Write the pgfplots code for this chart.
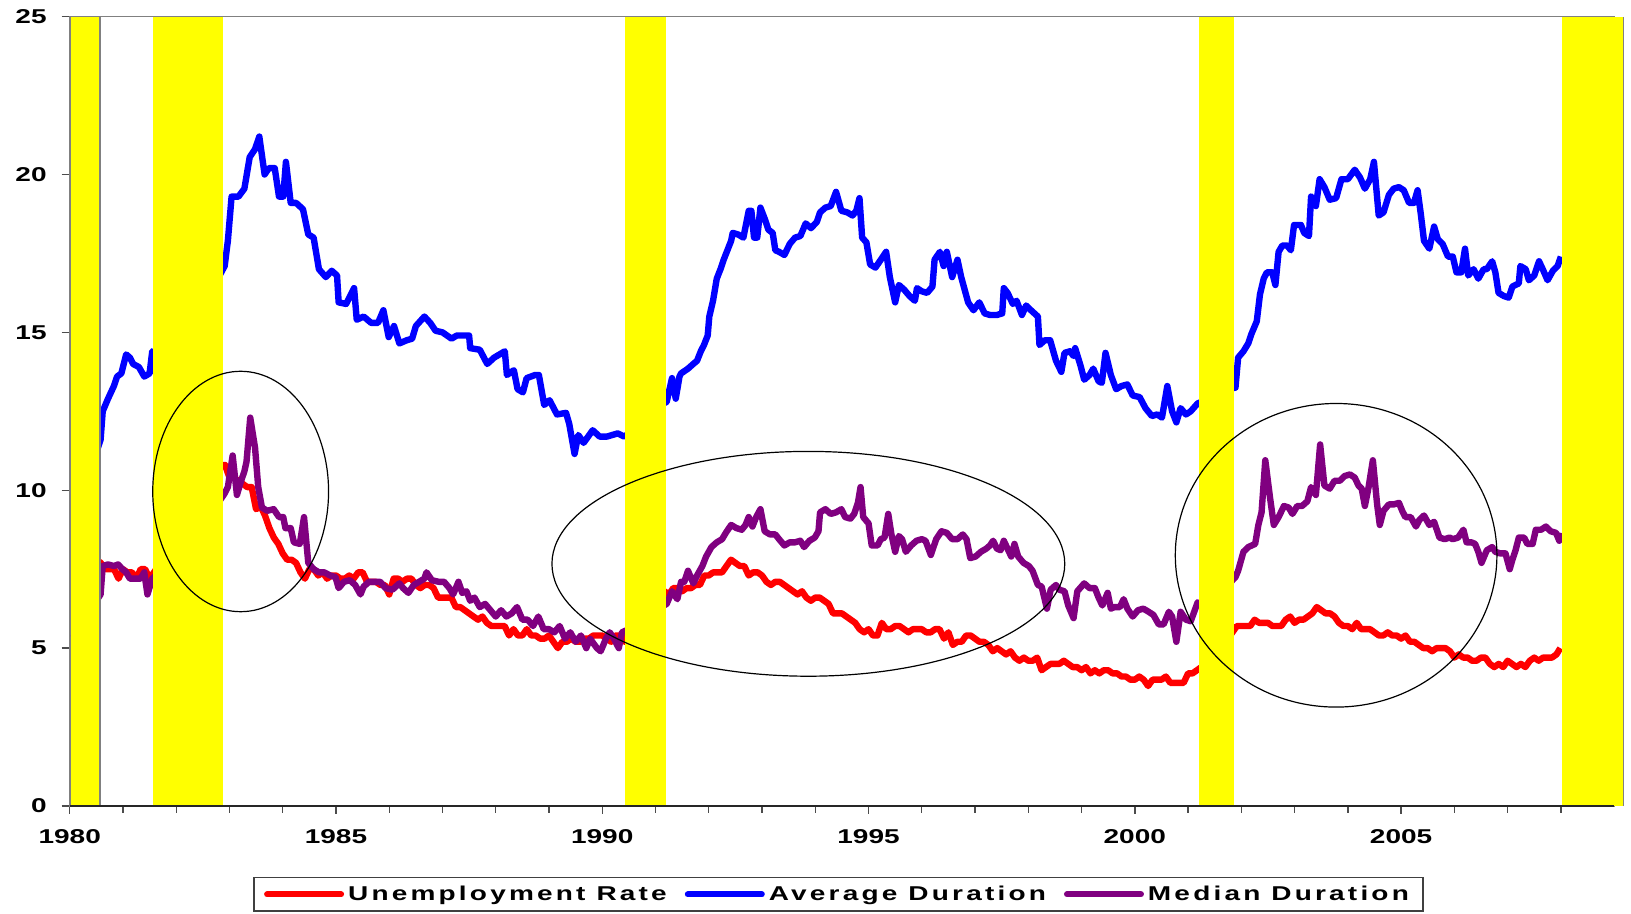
\documentclass[border=0pt]{standalone}
\usepackage{fontspec}
\setmainfont{Liberation Sans}[FakeStretch=1.4]
\usepackage{pgfplots}
\pgfplotsset{compat=1.18}
\definecolor{recyellow}{RGB}{255,255,0}
\definecolor{ured}{RGB}{255,0,0}
\definecolor{ablue}{RGB}{0,0,255}
\definecolor{mpurple}{RGB}{128,0,128}
\begin{document}
\begin{tikzpicture}
\useasboundingbox (0,0) rectangle (815.5pt,457pt);
\begin{axis}[
  at={(34.85pt,54pt)}, anchor=south west,
  scale only axis, width=772.2pt, height=394.7pt,
  xmin=1980, xmax=2009, ymin=0, ymax=25,
  clip=false,
  xtick={1980,1985,...,2005},
  minor xtick={1981,1982,1983,1984,1986,1987,1988,1989,1991,1992,1993,1994,1996,1997,1998,1999,2001,2002,2003,2004,2006,2007,2008},
  ytick={0,5,...,25},
  /pgf/number format/.cd, 1000 sep={}, assume math mode=true, /pgfplots/.cd,
  tick align=outside, xtick pos=left, ytick pos=left,
  major tick length=4pt, minor tick length=3.5pt,
  every tick/.style={black!70, line width=0.7pt},
  axis line style={gray, line width=0.8pt},
  tick label style={font=\bfseries\fontsize{10}{12}\selectfont},
  xticklabel style={yshift=-4pt},
  yticklabel style={xshift=-4pt},
  legend columns=3,
  legend style={at={(0.4978,-0.0899)}, anchor=north, draw=black!75, line width=0.7pt,
    font=\bfseries\fontsize{10}{12}\selectfont\addfontfeature{LetterSpace=16},
    inner xsep=5pt, inner ysep=2pt,
    /tikz/every even column/.append style={column sep=7pt}},
  legend cell align=left,
  legend image code/.code={\draw[#1, line width=3pt, line cap=round] (0pt,0pt) -- (37pt,0pt);},
]
% Unemployment rate
\addplot[ured, line width=3.2pt, line join=round] coordinates {
(1980.030,6.3)(1980.083,6.3)(1980.167,6.3)(1980.250,6.9)(1980.333,7.5)(1980.417,7.6)(1980.500,7.8)(1980.583,7.7)(1980.667,7.5)(1980.750,7.5)(1980.833,7.5)(1980.917,7.2)
(1981.000,7.5)(1981.083,7.4)(1981.167,7.4)(1981.250,7.2)(1981.333,7.5)(1981.417,7.5)(1981.500,7.2)(1981.583,7.4)(1981.667,7.6)(1981.750,7.9)(1981.833,8.3)(1981.917,8.5)
(1982.000,8.6)(1982.083,8.9)(1982.167,9.0)(1982.250,9.3)(1982.333,9.4)(1982.417,9.6)(1982.500,9.8)(1982.583,9.8)(1982.667,10.1)(1982.750,10.4)(1982.833,10.8)(1982.917,10.8)
(1983.000,10.4)(1983.083,10.4)(1983.167,10.3)(1983.250,10.2)(1983.333,10.1)(1983.417,10.1)(1983.500,9.4)(1983.583,9.5)(1983.667,9.2)(1983.750,8.8)(1983.833,8.5)(1983.917,8.3)
(1984.000,8.0)(1984.083,7.8)(1984.167,7.8)(1984.250,7.7)(1984.333,7.4)(1984.417,7.2)(1984.500,7.5)(1984.583,7.5)(1984.667,7.3)(1984.750,7.4)(1984.833,7.2)(1984.917,7.3)
(1985.000,7.3)(1985.083,7.2)(1985.167,7.2)(1985.250,7.3)(1985.333,7.2)(1985.417,7.4)(1985.500,7.4)(1985.583,7.1)(1985.667,7.1)(1985.750,7.1)(1985.833,7.0)(1985.917,7.0)
(1986.000,6.7)(1986.083,7.2)(1986.167,7.2)(1986.250,7.1)(1986.333,7.2)(1986.417,7.2)(1986.500,7.0)(1986.583,6.9)(1986.667,7.0)(1986.750,7.0)(1986.833,6.9)(1986.917,6.6)
(1987.000,6.6)(1987.083,6.6)(1987.167,6.6)(1987.250,6.3)(1987.333,6.3)(1987.417,6.2)(1987.500,6.1)(1987.583,6.0)(1987.667,5.9)(1987.750,6.0)(1987.833,5.8)(1987.917,5.7)
(1988.000,5.7)(1988.083,5.7)(1988.167,5.7)(1988.250,5.4)(1988.333,5.6)(1988.417,5.4)(1988.500,5.4)(1988.583,5.6)(1988.667,5.4)(1988.750,5.4)(1988.833,5.3)(1988.917,5.3)
(1989.000,5.4)(1989.083,5.2)(1989.167,5.0)(1989.250,5.2)(1989.333,5.2)(1989.417,5.3)(1989.500,5.2)(1989.583,5.2)(1989.667,5.3)(1989.750,5.3)(1989.833,5.4)(1989.917,5.4)
(1990.000,5.4)(1990.083,5.3)(1990.167,5.2)(1990.250,5.4)(1990.333,5.4)(1990.417,5.2)(1990.500,5.5)(1990.583,5.7)(1990.667,5.9)(1990.750,5.9)(1990.833,6.2)(1990.917,6.3)
(1991.000,6.4)(1991.083,6.6)(1991.167,6.8)(1991.250,6.7)(1991.333,6.9)(1991.417,6.9)(1991.500,6.8)(1991.583,6.9)(1991.667,6.9)(1991.750,7.0)(1991.833,7.0)(1991.917,7.3)
(1992.000,7.3)(1992.083,7.4)(1992.167,7.4)(1992.250,7.4)(1992.333,7.6)(1992.417,7.8)(1992.500,7.7)(1992.583,7.6)(1992.667,7.6)(1992.750,7.3)(1992.833,7.4)(1992.917,7.4)
(1993.000,7.3)(1993.083,7.1)(1993.167,7.0)(1993.250,7.1)(1993.333,7.1)(1993.417,7.0)(1993.500,6.9)(1993.583,6.8)(1993.667,6.7)(1993.750,6.8)(1993.833,6.6)(1993.917,6.5)
(1994.000,6.6)(1994.083,6.6)(1994.167,6.5)(1994.250,6.4)(1994.333,6.1)(1994.417,6.1)(1994.500,6.1)(1994.583,6.0)(1994.667,5.9)(1994.750,5.8)(1994.833,5.6)(1994.917,5.5)
(1995.000,5.6)(1995.083,5.4)(1995.167,5.4)(1995.250,5.8)(1995.333,5.6)(1995.417,5.6)(1995.500,5.7)(1995.583,5.7)(1995.667,5.6)(1995.750,5.5)(1995.833,5.6)(1995.917,5.6)
(1996.000,5.6)(1996.083,5.5)(1996.167,5.5)(1996.250,5.6)(1996.333,5.6)(1996.417,5.3)(1996.500,5.5)(1996.583,5.1)(1996.667,5.2)(1996.750,5.2)(1996.833,5.4)(1996.917,5.4)
(1997.000,5.3)(1997.083,5.2)(1997.167,5.2)(1997.250,5.1)(1997.333,4.9)(1997.417,5.0)(1997.500,4.9)(1997.583,4.8)(1997.667,4.9)(1997.750,4.7)(1997.833,4.6)(1997.917,4.7)
(1998.000,4.6)(1998.083,4.6)(1998.167,4.7)(1998.250,4.3)(1998.333,4.4)(1998.417,4.5)(1998.500,4.5)(1998.583,4.5)(1998.667,4.6)(1998.750,4.5)(1998.833,4.4)(1998.917,4.4)
(1999.000,4.3)(1999.083,4.4)(1999.167,4.2)(1999.250,4.3)(1999.333,4.2)(1999.417,4.3)(1999.500,4.3)(1999.583,4.2)(1999.667,4.2)(1999.750,4.1)(1999.833,4.1)(1999.917,4.0)
(2000.000,4.0)(2000.083,4.1)(2000.167,4.0)(2000.250,3.8)(2000.333,4.0)(2000.417,4.0)(2000.500,4.0)(2000.583,4.1)(2000.667,3.9)(2000.750,3.9)(2000.833,3.9)(2000.917,3.9)
(2001.000,4.2)(2001.083,4.2)(2001.167,4.3)(2001.250,4.4)(2001.333,4.3)(2001.417,4.5)(2001.500,4.6)(2001.583,4.9)(2001.667,5.0)(2001.750,5.3)(2001.833,5.5)(2001.917,5.7)
(2002.000,5.7)(2002.083,5.7)(2002.167,5.7)(2002.250,5.9)(2002.333,5.8)(2002.417,5.8)(2002.500,5.8)(2002.583,5.7)(2002.667,5.7)(2002.750,5.7)(2002.833,5.9)(2002.917,6.0)
(2003.000,5.8)(2003.083,5.9)(2003.167,5.9)(2003.250,6.0)(2003.333,6.1)(2003.417,6.3)(2003.500,6.2)(2003.583,6.1)(2003.667,6.1)(2003.750,6.0)(2003.833,5.8)(2003.917,5.7)
(2004.000,5.7)(2004.083,5.6)(2004.167,5.8)(2004.250,5.6)(2004.333,5.6)(2004.417,5.6)(2004.500,5.5)(2004.583,5.4)(2004.667,5.4)(2004.750,5.5)(2004.833,5.4)(2004.917,5.4)
(2005.000,5.3)(2005.083,5.4)(2005.167,5.2)(2005.250,5.2)(2005.333,5.1)(2005.417,5.0)(2005.500,5.0)(2005.583,4.9)(2005.667,5.0)(2005.750,5.0)(2005.833,5.0)(2005.917,4.9)
(2006.000,4.7)(2006.083,4.8)(2006.167,4.7)(2006.250,4.7)(2006.333,4.6)(2006.417,4.6)(2006.500,4.7)(2006.583,4.7)(2006.667,4.5)(2006.750,4.4)(2006.833,4.5)(2006.917,4.4)
(2007.000,4.6)(2007.083,4.5)(2007.167,4.4)(2007.250,4.5)(2007.333,4.4)(2007.417,4.6)(2007.500,4.7)(2007.583,4.6)(2007.667,4.7)(2007.750,4.7)(2007.833,4.7)(2007.917,4.8)(2007.990,5.0)
};
\addlegendentry{Unemployment Rate}
% Average duration
\addplot[ablue, line width=3.2pt, line join=round] coordinates {
(1980.05,10.7)(1980.25,10.6)(1980.50,11.2)(1980.58,11.6)(1980.62,12.5)(1980.72,12.9)(1980.83,13.3)(1980.89,13.6)(1980.97,13.7)(1981.06,14.3)(1981.13,14.2)(1981.19,14.0)(1981.30,13.9)(1981.40,13.6)(1981.50,13.7)(1981.55,14.4)
(1981.75,14.0)(1982.00,14.5)(1982.25,15.5)(1982.50,16.0)(1982.75,16.6)
(1982.91,17.1)(1982.97,17.9)(1983.04,19.3)(1983.17,19.3)(1983.28,19.55)(1983.38,20.55)(1983.48,20.8)(1983.56,21.2)(1983.66,20.0)(1983.74,20.2)(1983.85,20.2)(1983.93,19.3)(1984.01,19.3)(1984.06,20.4)(1984.15,19.1)(1984.25,19.1)(1984.38,18.9)(1984.48,18.1)(1984.58,18.0)(1984.68,17.0)(1984.81,16.75)(1984.92,16.95)(1985.02,16.8)(1985.05,15.95)(1985.19,15.9)(1985.34,16.4)(1985.39,15.4)(1985.52,15.5)(1985.66,15.3)(1985.79,15.3)(1985.89,15.7)(1985.99,14.85)(1986.09,15.2)(1986.19,14.65)(1986.33,14.75)(1986.43,14.8)(1986.50,15.2)(1986.66,15.5)(1986.77,15.3)(1986.87,15.05)(1987.00,15.0)(1987.17,14.8)(1987.27,14.9)(1987.40,14.9)(1987.50,14.9)(1987.52,14.5)(1987.70,14.45)(1987.84,14.0)(1987.97,14.2)(1988.17,14.4)(1988.21,13.65)(1988.34,13.8)(1988.41,13.2)(1988.51,13.1)(1988.58,13.55)(1988.74,13.65)(1988.81,13.65)(1988.91,12.7)(1989.01,12.85)(1989.15,12.4)(1989.32,12.45)(1989.38,12.1)(1989.48,11.15)(1989.55,11.75)(1989.65,11.5)(1989.82,11.9)(1989.95,11.7)(1990.09,11.7)(1990.29,11.8)(1990.41,11.7)
(1990.60,11.9)(1990.80,12.3)(1991.00,12.6)
(1991.21,12.8)(1991.31,13.55)(1991.38,12.9)(1991.45,13.6)(1991.48,13.7)(1991.61,13.85)(1991.71,14.0)(1991.78,14.1)(1991.85,14.4)(1991.91,14.6)(1991.98,14.9)(1992.01,15.5)(1992.08,16.0)(1992.15,16.7)(1992.22,17.0)(1992.28,17.3)(1992.35,17.6)(1992.42,17.9)(1992.45,18.15)(1992.55,18.1)(1992.65,18.0)(1992.75,18.85)(1992.80,18.85)(1992.85,18.0)(1992.91,18.0)(1992.97,18.95)(1993.05,18.6)(1993.12,18.25)(1993.20,18.15)(1993.25,17.6)(1993.32,17.55)(1993.42,17.45)(1993.52,17.8)(1993.62,18.0)(1993.72,18.05)(1993.82,18.45)(1993.92,18.3)(1994.03,18.5)(1994.09,18.8)(1994.19,18.95)(1994.29,19.0)(1994.39,19.45)(1994.49,18.85)(1994.60,18.8)(1994.70,18.7)(1994.77,18.85)(1994.83,19.25)(1994.88,18.0)(1994.96,17.85)(1995.03,17.15)(1995.13,17.05)(1995.23,17.3)(1995.33,17.55)(1995.40,16.75)(1995.50,15.95)(1995.57,16.5)(1995.67,16.35)(1995.77,16.15)(1995.87,16.0)(1995.91,16.4)(1996.00,16.3)(1996.10,16.25)(1996.20,16.45)(1996.24,17.3)(1996.34,17.55)(1996.41,17.1)(1996.47,17.55)(1996.57,16.75)(1996.67,17.3)(1996.74,16.75)(1996.87,15.95)(1996.97,15.7)(1997.08,15.95)(1997.18,15.6)(1997.28,15.55)(1997.41,15.55)(1997.51,15.6)(1997.54,16.4)(1997.61,16.25)(1997.71,15.9)(1997.78,16.0)(1997.88,15.55)(1997.96,15.85)(1998.05,15.7)(1998.18,15.5)(1998.21,14.6)(1998.31,14.75)(1998.41,14.75)(1998.52,14.1)(1998.62,13.75)(1998.68,14.35)(1998.78,14.4)(1998.85,14.25)(1998.88,14.5)(1998.98,13.95)(1999.05,13.5)(1999.15,13.65)(1999.22,13.85)(1999.32,13.45)(1999.38,13.4)(1999.45,14.35)(1999.55,13.65)(1999.65,13.2)(1999.75,13.3)(1999.86,13.35)(1999.96,13.0)(2000.09,12.95)(2000.20,12.6)
(2000.32,12.35)(2000.42,12.4)(2000.51,12.3)(2000.61,13.3)(2000.70,12.5)(2000.78,12.15)(2000.86,12.6)(2000.96,12.4)(2001.05,12.5)(2001.18,12.75)
(2001.40,12.9)(2001.60,13.0)(2001.75,13.2)
(2001.89,13.25)(2001.94,14.2)(2002.04,14.4)(2002.13,14.65)(2002.19,14.95)(2002.29,15.35)(2002.35,16.2)(2002.42,16.7)(2002.48,16.9)(2002.58,16.9)(2002.64,16.5)(2002.70,17.55)(2002.77,17.75)(2002.86,17.75)(2002.93,17.6)(2002.99,18.4)(2003.12,18.4)(2003.18,18.15)(2003.27,18.05)(2003.31,19.3)(2003.40,19.0)(2003.47,19.85)(2003.56,19.6)(2003.66,19.2)(2003.78,19.25)(2003.88,19.85)(2004.00,19.85)(2004.13,20.15)(2004.23,19.9)(2004.32,19.55)(2004.42,19.85)(2004.49,20.4)(2004.58,18.7)(2004.67,18.8)(2004.77,19.35)(2004.86,19.55)(2004.96,19.6)(2005.05,19.5)(2005.15,19.1)(2005.24,19.1)(2005.31,19.5)(2005.37,18.75)(2005.43,17.9)(2005.53,17.65)(2005.62,18.35)(2005.69,17.95)(2005.78,17.8)(2005.88,17.4)(2005.97,17.4)(2006.04,16.9)(2006.13,16.9)(2006.20,17.65)(2006.26,16.8)(2006.36,17.0)(2006.45,16.7)(2006.55,17.0)(2006.61,17.0)(2006.71,17.25)(2006.77,16.9)(2006.83,16.25)(2006.93,16.15)(2007.02,16.1)(2007.09,16.45)(2007.21,16.55)(2007.24,17.1)(2007.34,17.0)(2007.40,16.65)(2007.50,16.8)(2007.59,17.25)(2007.66,17.0)(2007.75,16.65)(2007.85,16.95)(2007.94,17.1)(2008.00,17.4)
};
\addlegendentry{Average Duration}
% Median duration
\addplot[mpurple, line width=3.2pt, line join=round] coordinates {
(1980.05,5.3)(1980.25,5.5)(1980.50,6.5)
(1980.58,6.7)(1980.62,7.6)(1980.72,7.65)(1980.83,7.6)(1980.91,7.65)(1980.99,7.5)(1981.06,7.4)(1981.13,7.2)(1981.23,7.2)(1981.33,7.2)(1981.40,7.4)(1981.46,6.7)(1981.55,7.2)
(1981.75,7.5)(1982.00,8.0)(1982.25,8.5)(1982.50,9.0)(1982.75,9.5)
(1982.91,9.9)(1982.97,10.1)(1983.06,11.1)(1983.14,9.85)(1983.21,10.25)(1983.28,10.6)(1983.32,10.9)(1983.39,12.3)(1983.48,11.35)(1983.54,10.1)(1983.61,9.45)(1983.71,9.35)(1983.83,9.4)(1983.93,9.15)(1984.01,9.15)(1984.05,8.8)(1984.15,8.8)(1984.21,8.35)(1984.32,8.3)(1984.40,9.15)(1984.48,7.7)(1984.58,7.5)(1984.68,7.4)(1984.78,7.4)(1984.89,7.3)(1984.99,7.25)(1985.05,6.9)(1985.15,7.1)(1985.26,7.15)(1985.36,7.0)(1985.46,6.7)(1985.52,6.95)(1985.62,7.1)(1985.72,7.1)(1985.83,7.1)(1985.93,6.9)(1986.06,6.85)(1986.19,7.05)(1986.26,6.9)(1986.36,6.75)(1986.46,7.0)(1986.56,7.1)(1986.66,7.2)(1986.70,7.4)(1986.80,7.15)(1986.93,7.1)(1987.03,7.1)(1987.13,6.9)(1987.20,6.7)(1987.30,7.1)(1987.37,6.75)
(1987.45,6.8)(1987.52,6.5)(1987.60,6.6)(1987.70,6.3)(1987.80,6.4)(1987.90,6.2)(1988.00,6.0)(1988.10,6.2)(1988.20,6.0)(1988.30,6.1)(1988.40,6.3)(1988.50,5.9)(1988.60,5.9)(1988.70,5.7)(1988.80,6.0)(1988.90,5.6)(1989.00,5.6)(1989.10,5.5)(1989.20,5.7)(1989.30,5.3)(1989.40,5.5)(1989.50,5.2)(1989.60,5.4)(1989.70,5.0)(1989.77,5.3)(1989.90,5.0)(1989.97,4.9)(1990.07,5.3)(1990.14,5.5)(1990.22,5.3)(1990.31,5.0)(1990.37,5.5)
(1990.50,5.6)(1990.80,5.9)(1991.00,6.2)
(1991.21,6.4)(1991.31,6.8)(1991.41,6.55)(1991.48,7.1)(1991.54,7.1)(1991.61,7.45)(1991.71,7.05)(1991.78,7.3)(1991.88,7.6)(1991.95,7.9)(1992.05,8.2)(1992.15,8.35)(1992.25,8.45)(1992.32,8.65)(1992.42,8.9)(1992.52,8.8)(1992.62,8.75)(1992.69,8.9)(1992.75,9.15)(1992.82,8.85)(1992.89,9.15)(1992.97,9.4)(1993.05,8.7)(1993.15,8.6)(1993.25,8.6)(1993.32,8.45)(1993.42,8.25)(1993.52,8.35)(1993.62,8.35)(1993.72,8.4)(1993.79,8.2)(1993.89,8.4)(1993.99,8.5)(1994.06,8.7)(1994.09,9.3)(1994.19,9.4)(1994.29,9.25)(1994.39,9.3)(1994.49,9.4)(1994.56,9.15)(1994.66,9.1)(1994.73,9.25)(1994.80,9.6)(1994.85,10.1)(1994.90,9.15)(1995.00,8.95)(1995.06,8.25)(1995.17,8.25)(1995.23,8.45)(1995.30,8.5)(1995.37,9.25)(1995.43,8.6)(1995.50,8.05)(1995.57,8.55)(1995.63,8.45)(1995.70,8.05)(1995.80,8.25)(1995.90,8.4)(1996.00,8.45)(1996.07,8.4)(1996.17,7.95)(1996.27,8.45)(1996.37,8.7)(1996.47,8.65)(1996.57,8.45)(1996.67,8.45)(1996.77,8.6)(1996.84,8.45)(1996.91,7.85)(1997.01,7.9)(1997.11,8.05)(1997.21,8.15)(1997.28,8.25)(1997.34,8.4)(1997.41,8.15)(1997.48,8.1)(1997.54,8.4)(1997.61,8.15)(1997.68,7.9)(1997.74,8.3)(1997.81,7.9)(1997.91,7.7)(1998.01,7.6)(1998.08,7.45)(1998.18,7.0)(1998.25,6.95)(1998.35,6.25)(1998.42,6.85)(1998.52,7.0)(1998.58,6.85)(1998.68,6.8)(1998.75,6.35)(1998.85,5.95)(1998.92,6.8)(1999.05,7.05)(1999.15,6.9)(1999.25,6.9)(1999.32,6.6)(1999.39,6.35)(1999.49,6.75)(1999.55,6.25)(1999.62,6.3)(1999.72,6.3)(1999.79,6.55)(1999.86,6.25)(1999.96,6.0)(2000.06,6.2)(2000.16,6.25)(2000.26,6.15)
(2000.35,6.05)(2000.45,5.75)(2000.54,5.75)(2000.64,6.15)(2000.70,6.0)(2000.78,5.2)(2000.86,6.15)(2000.96,5.9)(2001.05,5.85)(2001.18,6.45)
(2001.40,6.2)(2001.60,6.6)(2001.75,7.0)
(2001.89,7.25)(2001.94,7.45)(2002.04,8.05)(2002.13,8.2)(2002.26,8.3)(2002.32,8.9)(2002.38,9.3)(2002.45,10.95)(2002.54,9.75)(2002.61,8.9)(2002.70,9.15)(2002.80,9.5)(2002.89,9.45)(2002.96,9.25)(2003.05,9.5)(2003.14,9.5)(2003.24,9.65)(2003.31,10.1)(2003.40,9.85)(2003.48,11.45)(2003.56,10.15)(2003.66,10.05)(2003.75,10.3)(2003.85,10.3)(2003.94,10.45)(2004.04,10.5)(2004.13,10.4)(2004.20,10.15)(2004.26,10.05)(2004.32,9.5)(2004.39,10.1)(2004.47,10.95)(2004.55,9.55)(2004.60,8.9)(2004.67,9.35)(2004.77,9.55)(2004.86,9.55)(2004.96,9.6)(2005.02,9.35)(2005.08,9.15)(2005.18,9.15)(2005.28,8.85)(2005.34,9.05)(2005.43,9.2)(2005.53,8.9)(2005.62,9.0)(2005.72,8.5)(2005.82,8.45)(2005.91,8.5)(2005.97,8.45)(2006.07,8.5)(2006.17,8.75)(2006.23,8.35)(2006.32,8.35)(2006.39,8.3)(2006.45,8.05)(2006.51,7.7)(2006.61,8.1)(2006.71,8.2)(2006.77,8.05)(2006.86,8.0)(2006.96,8.0)(2007.04,7.5)(2007.09,7.8)(2007.15,8.1)(2007.21,8.5)(2007.31,8.5)(2007.37,8.3)(2007.47,8.3)(2007.53,8.75)(2007.63,8.75)(2007.72,8.85)(2007.81,8.7)(2007.91,8.65)(2007.97,8.4)(2008.00,8.65)
};
\addlegendentry{Median Duration}
% Recession bars
\addplot[fill=recyellow, draw=none, forget plot] coordinates {(1980.016,0) (1980.016,25) (1980.57,25) (1980.57,0)} -- cycle;
\addplot[fill=recyellow, draw=none, forget plot] coordinates {(1981.56,0) (1981.56,25) (1982.87,25) (1982.87,0)} -- cycle;
\addplot[fill=recyellow, draw=none, forget plot] coordinates {(1990.42,0) (1990.42,25) (1991.20,25) (1991.20,0)} -- cycle;
\addplot[fill=recyellow, draw=none, forget plot] coordinates {(2001.21,0) (2001.21,25) (2001.86,25) (2001.86,0)} -- cycle;
\addplot[fill=recyellow, draw=none, forget plot] coordinates {(2008.02,0) (2008.02,25) (2009.18,25) (2009.18,0)} -- cycle;
\addplot[gray, line width=0.6pt, forget plot] coordinates {(1980.57,0) (1980.57,25)};
\addplot[gray, line width=0.6pt, forget plot] coordinates {(2009.18,0) (2009.18,25)};
% bottom axis line on top
\draw[black!85, line width=1pt] (rel axis cs:0,0) -- (rel axis cs:1,0);
% ellipses
\draw[black, line width=0.6pt] (axis cs:1983.21,9.96) ellipse [x radius=43.95pt, y radius=60.1pt];
\draw[black, line width=0.6pt] (axis cs:1993.87,7.67) ellipse [x radius=128.2pt, y radius=56.2pt];
\draw[black, line width=0.6pt] (axis cs:2003.78,7.94) ellipse [x radius=80.4pt, y radius=75.9pt];
\end{axis}
\end{tikzpicture}
\end{document}
